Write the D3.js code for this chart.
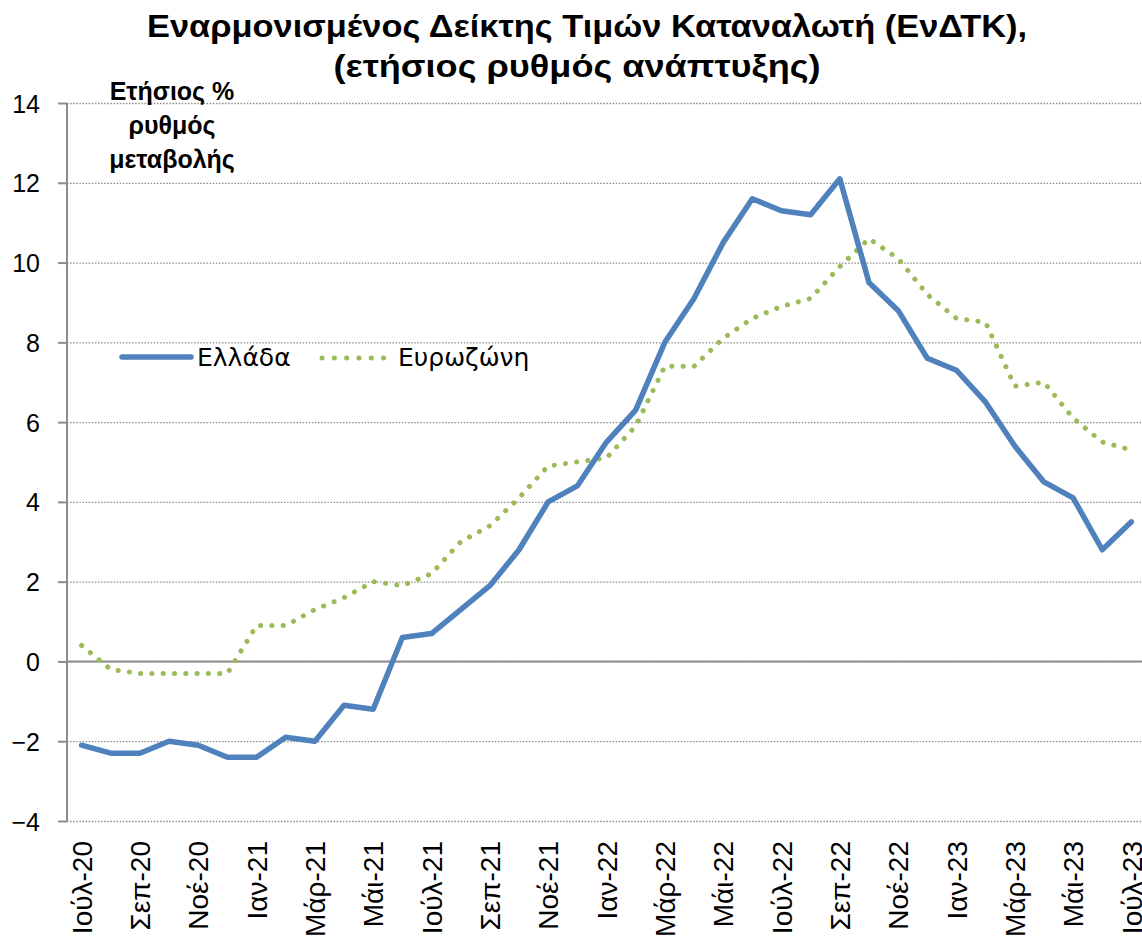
<!DOCTYPE html>
<html>
<head>
<meta charset="utf-8">
<script src="https://cdn.jsdelivr.net/npm/d3@7"></script>
<style>
  body { margin: 0; background: #fff; }
  svg { display: block; }
</style>
</head>
<body>
<svg width="1142" height="937"></svg>
<script>
// data
const months = ['Ιούλ-20','Αύγ-20','Σεπ-20','Οκτ-20','Νοέ-20','Δεκ-20',
  'Ιαν-21','Φεβ-21','Μάρ-21','Απρ-21','Μάι-21','Ιούν-21','Ιούλ-21','Αύγ-21','Σεπ-21','Οκτ-21','Νοέ-21','Δεκ-21',
  'Ιαν-22','Φεβ-22','Μάρ-22','Απρ-22','Μάι-22','Ιούν-22','Ιούλ-22','Αύγ-22','Σεπ-22','Οκτ-22','Νοέ-22','Δεκ-22',
  'Ιαν-23','Φεβ-23','Μάρ-23','Απρ-23','Μάι-23','Ιούν-23','Ιούλ-23']
const greece = [-2.1,-2.3,-2.3,-2.0,-2.1,-2.4,
  -2.4,-1.9,-2.0,-1.1,-1.2,0.6,0.7,1.3,1.9,2.8,4.0,4.4,
  5.5,6.3,8.0,9.1,10.5,11.6,11.3,11.2,12.1,9.5,8.8,7.6,
  7.3,6.5,5.4,4.5,4.1,2.8,3.5]
const eurozone = [0.4,-0.2,-0.3,-0.3,-0.3,-0.3,
  0.9,0.9,1.3,1.6,2.0,1.9,2.2,3.0,3.4,4.1,4.9,5.0,
  5.1,5.9,7.4,7.4,8.1,8.6,8.9,9.1,9.9,10.6,10.1,9.2,
  8.6,8.5,6.9,7.0,6.1,5.5,5.3]
const yTicks = [-4,-2,0,2,4,6,8,10,12,14]
const seriesNames = ['Ελλάδα','Ευρωζώνη']

const svg = d3.select('svg')
const width = +svg.attr('width')
const height = +svg.attr('height')
const blue = '#4F81BD'
const green = '#9BBB59'
const gridGray = '#8c8c8c'

const plot = { left: 67, right: 1146, top: 103, bottom: 821 }

const xScale = d3.scaleBand()
  .domain(months)
  .range([plot.left, plot.right])
const xMid = m => xScale(m) + xScale.bandwidth() / 2

const yScale = d3.scaleLinear()
  .domain([-4, 14])
  .range([plot.bottom, plot.top])

// gridlines (dotted) + y axis ticks
const yAxis = d3.axisLeft(yScale)
  .tickValues(yTicks)
  .tickSize(-(plot.right - plot.left))
  .tickPadding(0)
  .tickFormat(d3.format('d'))
const yAxisG = svg.append('g')
  .attr('transform', `translate(${plot.left},0)`)
  .call(yAxis)
yAxisG.select('.domain').remove()
yAxisG.selectAll('.tick line')
  .attr('stroke', gridGray)
  .attr('stroke-width', 1.3)
  .attr('stroke-dasharray', '1.5 1.6')
yAxisG.selectAll('.tick text')
  .attr('x', -27)
  .attr('dy', '0.36em')
  .attr('fill', '#000')
  .style('font-family', '"Liberation Sans", Arial, sans-serif')
  .style('font-size', '25px')

// small tick marks left of the axis
yAxisG.selectAll('.tick').append('line')
  .attr('x1', -9).attr('x2', 0)
  .attr('stroke', gridGray).attr('stroke-width', 2)

// zero line and vertical axis
svg.append('line')
  .attr('x1', plot.left).attr('x2', width)
  .attr('y1', yScale(0)).attr('y2', yScale(0))
  .attr('stroke', gridGray).attr('stroke-width', 2)
svg.append('line')
  .attr('x1', plot.left).attr('x2', plot.left)
  .attr('y1', plot.top).attr('y2', plot.bottom)
  .attr('stroke', gridGray).attr('stroke-width', 2)

// x labels, every second month, rotated
svg.append('g').selectAll('text')
  .data(months.filter((m, i) => i % 2 === 0))
  .enter().append('text')
  .attr('transform', d => `translate(${xMid(d)},${plot.bottom + 20}) rotate(-90)`)
  .attr('dy', '0.36em')
  .attr('text-anchor', 'end')
  .style('font-family', '"Liberation Sans", Arial, sans-serif')
  .style('font-size', '28px')
  .text(d => d)

// lines
const line = d3.line()
  .x((d, i) => xMid(months[i]))
  .y(d => yScale(d))

svg.append('path')
  .datum(eurozone)
  .attr('d', line)
  .attr('fill', 'none')
  .attr('stroke', green)
  .attr('stroke-width', 5)
  .attr('stroke-linecap', 'round')
  .attr('stroke-dasharray', '0.1 11.2')

svg.append('path')
  .datum(greece)
  .attr('d', line)
  .attr('fill', 'none')
  .attr('stroke', blue)
  .attr('stroke-width', 5.5)
  .attr('stroke-linejoin', 'round')
  .attr('stroke-linecap', 'round')

// title (stretched to the reference's width)
const title = svg.append('text')
  .attr('text-anchor', 'middle')
  .style('font-family', '"Liberation Sans", Arial, sans-serif')
  .style('font-weight', 'bold')
  .style('font-size', '31px')
title.append('tspan').attr('x', 587).attr('y', 37)
  .attr('textLength', 880).attr('lengthAdjust', 'spacingAndGlyphs')
  .text('Εναρμονισμένος Δείκτης Τιμών Καταναλωτή (ΕνΔΤΚ),')
svg.append('text')
  .attr('text-anchor', 'middle')
  .attr('x', 577).attr('y', 77)
  .attr('textLength', 487).attr('lengthAdjust', 'spacingAndGlyphs')
  .style('font-family', '"Liberation Sans", Arial, sans-serif')
  .style('font-weight', 'bold')
  .style('font-size', '31px')
  .text('(ετήσιος ρυθμός ανάπτυξης)')

// y axis title
const yTitle = svg.append('text')
  .attr('text-anchor', 'middle')
  .style('font-family', '"Liberation Sans", Arial, sans-serif')
  .style('font-weight', 'bold')
  .style('font-size', '25px')
;['Ετήσιος %', 'ρυθμός', 'μεταβολής'].forEach((t, i) => {
  yTitle.append('tspan').attr('x', 172).attr('y', 100 + i * 34).text(t)
})

// legend
const legend = svg.append('g')
legend.append('line')
  .attr('x1', 122).attr('x2', 191).attr('y1', 357).attr('y2', 357)
  .attr('stroke', blue).attr('stroke-width', 5.5).attr('stroke-linecap', 'round')
legend.append('line')
  .attr('x1', 322).attr('x2', 386).attr('y1', 358).attr('y2', 358)
  .attr('stroke', green).attr('stroke-width', 5).attr('stroke-linecap', 'round')
  .attr('stroke-dasharray', '0.1 12.2')
legend.selectAll('text.lg').data(seriesNames)
  .enter().append('text')
  .attr('class', 'lg')
  .attr('x', (d, i) => i === 0 ? 197 : 398)
  .attr('y', 366)
  .style('font-family', '"DejaVu Sans", sans-serif')
  .style('font-size', '25px')
  .text(d => d)
</script>
</body>
</html>
